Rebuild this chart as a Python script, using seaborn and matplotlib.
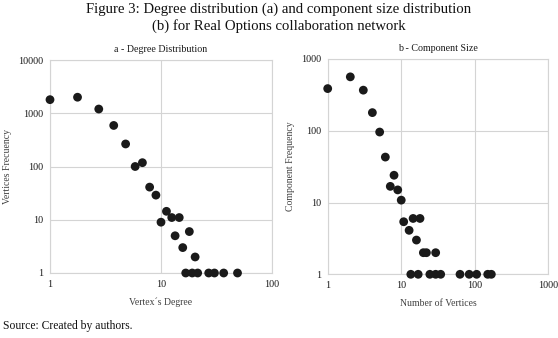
import matplotlib
matplotlib.use("Agg")
import matplotlib.pyplot as plt
import seaborn as sns
import pandas as pd
from matplotlib.ticker import FixedLocator, NullLocator

# Panel a - Degree distribution
deg_x = [1, 1.77, 2.75, 3.75, 4.8, 5.85, 6.8, 7.9, 9.0, 10.0, 11.2, 12.5, 13.4, 14.6,
         15.7, 16.7, 18.0, 19.1, 20.3, 21.4, 26.9, 30.3, 36.7, 48.9]
deg_y = [1800, 2000, 1200, 590, 265, 100, 118, 41, 29, 9, 14.4, 11, 5, 11,
         3, 1, 6, 1, 2, 1, 1, 1, 1, 1]

# Panel b - Component size
comp_x = [1, 2.03, 3.05, 4.05, 5.09, 6.08, 7.1, 7.98, 8.96, 10.0, 10.8, 12.8, 13.5, 14.5,
          16.1, 17, 18, 20, 22, 24.5, 29.4, 29.4, 34.4, 63, 84, 106, 150, 168]
comp_y = [387, 564, 368, 179, 96, 43, 16.8, 24, 15, 10.8, 5.4, 4.1, 1, 6,
          3, 1, 6, 2, 2, 1, 1, 2, 1, 1, 1, 1, 1, 1]

a_xticks = [1, 10, 100]
a_yticks = [1, 10, 100, 1000, 10000]
b_xticks = [1, 10, 100, 1000]
b_yticks = [1, 10, 100, 1000]

sns.set_style("white")
plt.rcParams['font.family'] = ['Liberation Serif', 'DejaVu Serif']

fig = plt.figure(figsize=(5.58, 3.38), dpi=100)
ax1 = fig.add_axes([50/558, 1-273/338, 222/558, 213/338])
ax2 = fig.add_axes([327.7/558, 1-274.3/338, 220.6/558, 215.3/338])

df_a = pd.DataFrame({"x": deg_x, "y": deg_y})
df_b = pd.DataFrame({"x": comp_x, "y": comp_y})

panels = [
    (ax1, df_a, a_xticks, a_yticks, "a - Degree Distribution", "Vertex´s Degree", "Vertices Frecuency"),
    (ax2, df_b, b_xticks, b_yticks, "b - Component Size", "Number of Vertices", "Component Frequency"),
]

for ax, df, xt, yt, title, xl, yl in panels:
    ax.set_xscale("log")
    ax.set_yscale("log")
    sns.scatterplot(data=df, x="x", y="y", ax=ax, s=40, color="#1a1a1a",
                    edgecolor="none", zorder=3, clip_on=False)
    ax.set_xlim(xt[0], xt[-1])
    ax.set_ylim(yt[0], yt[-1])
    ax.xaxis.set_major_locator(FixedLocator(xt))
    ax.yaxis.set_major_locator(FixedLocator(yt))
    ax.xaxis.set_minor_locator(NullLocator())
    ax.yaxis.set_minor_locator(NullLocator())
    ax.set_xticklabels([str(v) for v in xt])
    ax.set_yticklabels([str(v) for v in yt])
    ax.tick_params(axis="both", length=0, labelsize=7.3, colors="#1a1a1a", pad=5)
    ax.grid(True, color="#d4d4d4", linewidth=0.8)
    ax.set_axisbelow(True)
    for sp in ax.spines.values():
        sp.set_color("#d4d4d4")
        sp.set_linewidth(0.8)
    ax.set_title(title, fontsize=7.2, color="#1a1a1a", pad=6)
    ax.set_xlabel(xl, fontsize=7, color="#404040", labelpad=6)
    ax.set_ylabel(yl, fontsize=7, color="#404040", labelpad=4)

# nudge the last x tick label of panel b so it stays inside the figure, as in the reference
ax2.get_xticklabels()[-1].set_horizontalalignment("center")
for lbl in ax2.get_xticklabels()[-1:]:
    lbl.set_x(lbl.get_position()[0])

fig.text(0.5, 1-9.5/338, "Figure 3: Degree distribution (a) and component size distribution",
         ha="center", va="center", fontsize=10.6, color="#111111")
fig.text(0.5, 1-26.5/338, "(b) for Real Options collaboration network",
         ha="center", va="center", fontsize=10.6, color="#111111")
fig.text(3/558, 1-326.5/338, "Source: Created by authors.", ha="left", va="center",
         fontsize=8.4, color="#111111")

fig.savefig("out.png", dpi=100)
